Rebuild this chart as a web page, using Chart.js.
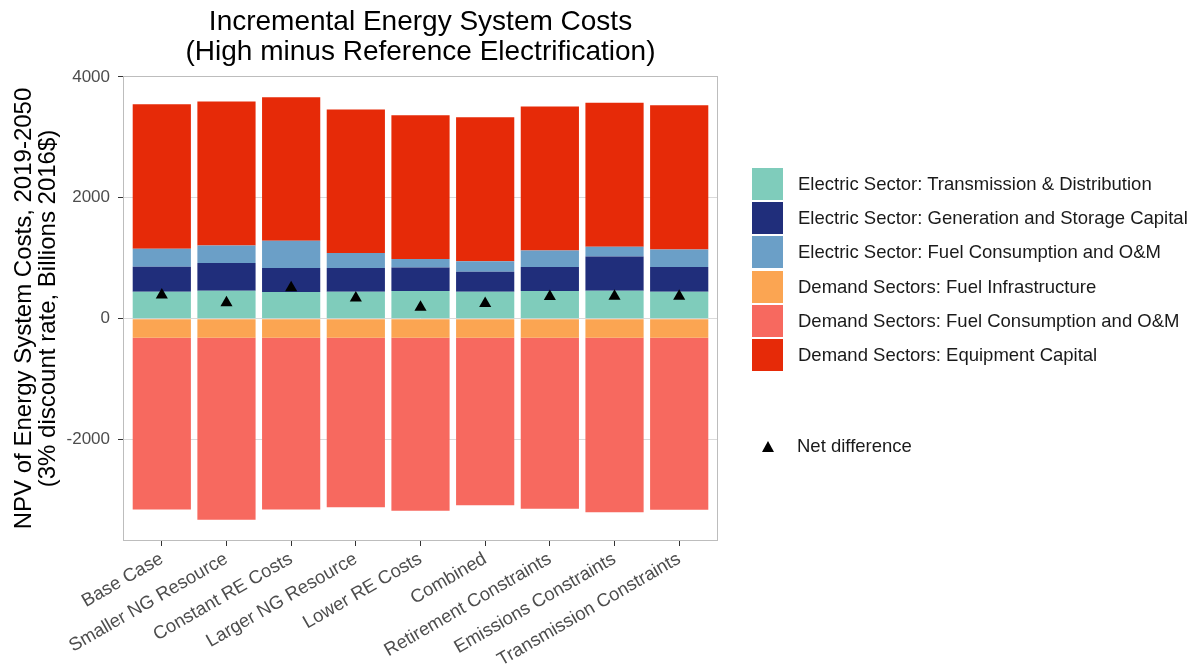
<!DOCTYPE html>
<html>
<head>
<meta charset="utf-8">
<script src="https://cdn.jsdelivr.net/npm/chart.js@4"></script>
<style>
  body { margin: 0; background: #fff; font-family: "Liberation Sans", Arial, sans-serif; }
  #wrap { position: relative; width: 1195px; height: 669px; }
  #legend { position: absolute; left: 752px; top: 168px; font-size: 18.5px; color: #1a1a1a; }
  .item { position: relative; height: 34.2px; }
  .key { position: absolute; left: 0; top: 0; width: 31px; height: 32px; }
  .lab { position: absolute; left: 46px; top: 16px; transform: translateY(-50%); white-space: nowrap; }
  #net { position: absolute; left: 762px; top: 436px; font-size: 18.5px; color: #1a1a1a; }
  #net .tri { position: absolute; left: 0; top: 5px; width: 0; height: 0;
    border-left: 6.5px solid transparent; border-right: 6.5px solid transparent; border-bottom: 11px solid #000; }
  #net .lab { left: 35px; top: 10px; }
</style>
</head>
<body>
<div id="wrap">
  <canvas id="costChart" width="1195" height="669"></canvas>
  <div id="legend"></div>
  <div id="net"><div class="tri"></div><div class="lab">Net difference</div></div>
</div>
<script>
// scenarios along the x axis
const scenarios = ["Base Case", "Smaller NG Resource", "Constant RE Costs", "Larger NG Resource",
  "Lower RE Costs", "Combined", "Retirement Constraints", "Emissions Constraints", "Transmission Constraints"];

// cost components (billions 2016$)
const elecTD = [446, 463, 441, 446, 458, 446, 458, 463, 446];
const elecGenStorage = [414, 457, 397, 392, 390, 331, 396, 567, 408];
const elecFuelOM = [297, 292, 451, 248, 139, 171, 275, 160, 292];
const demandFuelInfra = [-314, -314, -314, -314, -314, -314, -314, -314, -314];
const demandFuelOM = [-2843, -3014, -2843, -2805, -2865, -2772, -2832, -2888, -2848];
const demandEquipment = [2392, 2380, 2376, 2374, 2380, 2386, 2381, 2381, 2386];
const netDifference = [390, 265, 510, 340, 190, 250, 365, 370, 370];

const yTicks = [-2000, 0, 2000, 4000];

const seriesNames = [
  "Electric Sector: Transmission & Distribution",
  "Electric Sector: Generation and Storage Capital",
  "Electric Sector: Fuel Consumption and O&M",
  "Demand Sectors: Fuel Infrastructure",
  "Demand Sectors: Fuel Consumption and O&M",
  "Demand Sectors: Equipment Capital"
];
const seriesColors = ["#7fccbb", "#202e7b", "#6b9fc7", "#fba552", "#f7695f", "#e62a08"];
const seriesData = [elecTD, elecGenStorage, elecFuelOM, demandFuelInfra, demandFuelOM, demandEquipment];

const toXY = arr => arr.map((v, i) => ({ x: i, y: v }));

const datasets = seriesData.map((d, k) => ({
  type: "bar",
  label: seriesNames[k],
  data: toXY(d),
  backgroundColor: seriesColors[k],
  borderWidth: 0,
  categoryPercentage: 0.9,
  barPercentage: 1.0,
  stack: "costs",
}));

datasets.push({
  type: "line",
  label: "Net difference",
  data: toXY(netDifference),
  showLine: false,
  pointStyle: "triangle",
  pointRadius: 7,
  backgroundColor: "#000",
  borderColor: "#000",
  borderWidth: 0,
  stack: "net",
  order: -1,
});

// panel border drawn over everything, like ggplot's theme_bw
const panelBorder = {
  id: "panelBorder",
  afterDraw(chart) {
    const { ctx, chartArea: a } = chart;
    ctx.save();
    ctx.strokeStyle = "#bdbdbd";
    ctx.lineWidth = 1;
    ctx.strokeRect(Math.round(a.left) + 0.5, Math.round(a.top) + 0.5,
      Math.round(a.right - a.left) - 1, Math.round(a.bottom - a.top) - 1);
    ctx.restore();
  }
};

const fam = "'Liberation Sans', Arial, sans-serif";

new Chart(document.getElementById("costChart"), {
  data: { datasets },
  plugins: [panelBorder],
  options: {
    responsive: false,
    animation: false,
    layout: { padding: { left: 0, right: 477, top: 0, bottom: 0 } },
    plugins: {
      legend: { display: false },
      tooltip: { enabled: false },
      title: {
        display: true,
        fullSize: false,
        text: ["Incremental Energy System Costs", "(High minus Reference Electrification)"],
        color: "#000",
        font: { family: fam, size: 28, weight: "normal", lineHeight: 1.08 },
        padding: { top: 7, bottom: 8.5 },
      },
    },
    scales: {
      x: {
        type: "linear",
        stacked: true,
        offset: false,
        min: -0.6,
        max: 8.6,
        afterBuildTicks: s => { s.ticks = scenarios.map((c, i) => ({ value: i })); },
        afterFit: s => { s.height = 128; },
        grid: { offset: false, drawOnChartArea: false, drawTicks: true, tickLength: 5, tickColor: "#333", tickWidth: 1 },
        border: { display: false },
        ticks: {
          autoSkip: false,
          minRotation: 30,
          maxRotation: 30,
          padding: 2,
          color: "#4d4d4d",
          font: { family: fam, size: 18.5 },
          callback: v => scenarios[v],
        },
      },
      y: {
        stacked: true,
        min: -3678,
        max: 4015,
        afterBuildTicks: s => { s.ticks = yTicks.map(v => ({ value: v })); },
        afterFit: s => { s.width = 123; },
        grid: { color: "#dadada", lineWidth: 1, tickLength: 5, tickColor: "#333", drawTicks: true },
        border: { display: false },
        ticks: { color: "#4d4d4d", font: { family: fam, size: 17 }, padding: 8, callback: v => String(v) },
        title: {
          display: true,
          text: ["NPV of Energy System Costs, 2019-2050", "(3% discount rate, Billions 2016$)"],
          color: "#000",
          font: { family: fam, size: 24, lineHeight: 1.0 },
          padding: { top: 12, bottom: 0 },
        },
      },
    },
  },
});

// legend as html, same order and colours as the datasets
const legendEl = document.getElementById("legend");
seriesNames.forEach((name, k) => {
  const item = document.createElement("div");
  item.className = "item";
  item.innerHTML = '<div class="key" style="background:' + seriesColors[k] + '"></div><div class="lab"></div>';
  item.querySelector(".lab").textContent = name;
  legendEl.appendChild(item);
});
</script>
</body>
</html>
